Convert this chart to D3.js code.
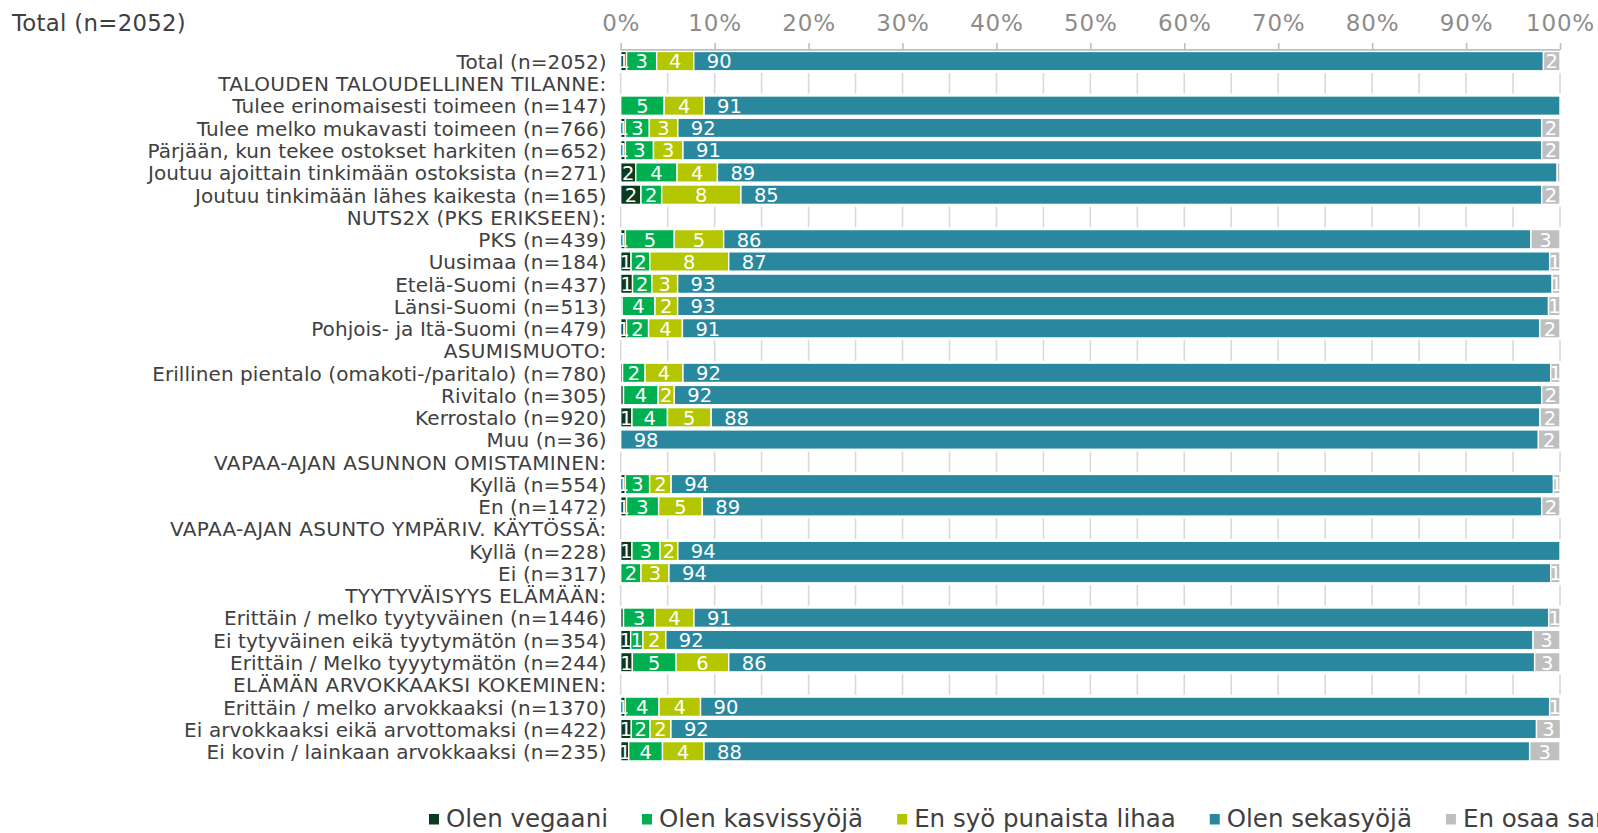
<!DOCTYPE html>
<html>
<head>
<meta charset="utf-8">
<script src="https://cdn.jsdelivr.net/npm/d3@7"></script>
<style>
  html, body { margin: 0; padding: 0; background: #fff; overflow: hidden; }
  text { font-family: "DejaVu Sans", Verdana, sans-serif; }
</style>
</head>
<body>
<svg id="chart" width="1598" height="833"></svg>
<script>
const title = "Total (n=2052)";
const categories = [
  "Total (n=2052)",
  "TALOUDEN TALOUDELLINEN TILANNE:",
  "Tulee erinomaisesti toimeen (n=147)",
  "Tulee melko mukavasti toimeen (n=766)",
  "Pärjään, kun tekee ostokset harkiten (n=652)",
  "Joutuu ajoittain tinkimään ostoksista (n=271)",
  "Joutuu tinkimään lähes kaikesta (n=165)",
  "NUTS2X (PKS ERIKSEEN):",
  "PKS (n=439)",
  "Uusimaa (n=184)",
  "Etelä-Suomi (n=437)",
  "Länsi-Suomi (n=513)",
  "Pohjois- ja Itä-Suomi (n=479)",
  "ASUMISMUOTO:",
  "Erillinen pientalo (omakoti-/paritalo) (n=780)",
  "Rivitalo (n=305)",
  "Kerrostalo (n=920)",
  "Muu (n=36)",
  "VAPAA-AJAN ASUNNON OMISTAMINEN:",
  "Kyllä (n=554)",
  "En (n=1472)",
  "VAPAA-AJAN ASUNTO YMPÄRIV. KÄYTÖSSÄ:",
  "Kyllä (n=228)",
  "Ei (n=317)",
  "TYYTYVÄISYYS ELÄMÄÄN:",
  "Erittäin / melko tyytyväinen (n=1446)",
  "Ei tytyväinen eikä tyytymätön (n=354)",
  "Erittäin / Melko tyyytymätön (n=244)",
  "ELÄMÄN ARVOKKAAKSI KOKEMINEN:",
  "Erittäin / melko arvokkaaksi (n=1370)",
  "Ei arvokkaaksi eikä arvottomaksi (n=422)",
  "Ei kovin / lainkaan arvokkaaksi (n=235)"
];
// null = group header row (no bar)
const vegaani = [0.62,null,0,0.5,0.5,1.6,2.16,null,0.5,1.1,1.26,0.15,0.62,null,0.2,0.3,1.2,0,null,0.5,0.62,null,1.2,0,null,0.3,1.06,1.24,null,0.5,1.13,0.85];
const kasvissyoja = [3.21,null,4.63,2.55,2.99,4.4,2.2,null,5.21,2.0,2.06,3.5,2.35,null,2.4,3.7,3.78,0,null,2.58,3.42,null,2.98,2.16,null,3.35,1.3,4.65,null,3.58,2.0,3.6];
const eiPunaista = [3.95,null,4.25,3.03,3.14,4.3,8.44,null,5.25,8.4,2.74,2.41,3.6,null,4.03,1.71,4.65,0,null,2.29,4.65,null,1.9,2.98,null,4.15,2.44,5.61,null,4.42,2.22,4.42];
const sekasyoja = [90.46,null,91.12,91.97,91.42,89.4,85.25,null,85.95,87.4,93.11,92.72,91.28,null,92.38,92.34,88.24,97.7,null,93.94,89.36,null,93.92,93.87,null,91.0,92.33,85.8,null,90.4,92.15,87.9];
const enOsaa = [1.76,null,0,1.95,1.95,0.3,1.95,null,3.09,1.1,0.83,1.22,2.15,null,0.99,1.95,2.13,2.3,null,0.69,1.95,null,0,0.99,null,1.2,2.87,2.7,null,1.1,2.55,3.23];

const seriesNames = ["Olen vegaani", "Olen kasvissyöjä", "En syö punaista lihaa", "Olen sekasyöjä", "En osaa sanoa"];
const seriesColors = ["#0b3a1e", "#00b050", "#b3c600", "#2a889e", "#bfbfbf"];
const tickValues = [0,10,20,30,40,50,60,70,80,90,100];
const gridValues = [0,5,10,15,20,25,30,35,40,45,50,55,60,65,70,75,80,85,90,95,100];

const seriesArrays = [vegaani, kasvissyoja, eiPunaista, sekasyoja, enOsaa];
const rows = categories.map((c, i) => {
  const o = { cat: c, header: vegaani[i] === null, vals: {} };
  seriesNames.forEach((s, j) => {
    const v = seriesArrays[j][i] === null ? 0 : seriesArrays[j][i];
    o[s] = v; o.vals[s] = v;
  });
  return o;
});

const svg = d3.select("#chart");
const x = d3.scaleLinear().domain([0, 100]).range([620.7, 1560]);
const y = d3.scaleBand().domain(categories).range([50, 762.4]).paddingInner(0.13).paddingOuter(0.065);
const step = y.step();

// title
svg.append("text").attr("x", 12).attr("y", 30.5)
  .attr("font-size", 22.8).attr("letter-spacing", 0.3).attr("fill", "#404040").text(title);

// gridlines in header rows
const headerRows = rows.filter(r => r.header);
headerRows.forEach(r => {
  const cy = y(r.cat) + y.bandwidth() / 2;
  svg.append("g").selectAll("line").data(gridValues).join("line")
    .attr("x1", d => x(d)).attr("x2", d => x(d))
    .attr("y1", cy - step / 2 + 0.8).attr("y2", cy + step / 2 - 0.8)
    .attr("stroke", "#d9d9d9").attr("stroke-width", 1.6);
});

// top axis
const axis = d3.axisTop(x).tickValues(tickValues).tickFormat(d => d + "%").tickSize(7).tickPadding(12);
const ag = svg.append("g").attr("transform", "translate(0,50)").call(axis);
ag.select(".domain").attr("stroke", "#bfbfbf").attr("stroke-width", 2)
  .attr("d", `M${x(0)},0H${x(100)}`);
ag.selectAll(".tick line").attr("stroke", "#bfbfbf").attr("stroke-width", 1.6);
ag.selectAll(".tick text").attr("font-size", 23).attr("fill", "#8c8c8c")
  .attr("font-family", "DejaVu Sans").attr("letter-spacing", 0.8);

// category labels
svg.append("g").selectAll("text").data(rows).join("text")
  .attr("x", 606.7)
  .attr("y", d => y(d.cat) + y.bandwidth() / 2 + 7.8)
  .attr("text-anchor", "end")
  .attr("font-size", 20).attr("fill", "#404040")
  .attr("letter-spacing", d => d.header ? 0.35 : 0.08)
  .text(d => d.cat);

// bars
const stack = d3.stack().keys(seriesNames);
const stacked = stack(rows.filter(r => !r.header));
const color = d3.scaleOrdinal().domain(seriesNames).range(seriesColors);

const layers = svg.append("g").selectAll("g").data(stacked).join("g")
  .attr("fill", d => color(d.key));
layers.selectAll("rect").data(d => d.filter(p => p[1] - p[0] > 0)).join("rect")
  .attr("x", d => x(d[0]))
  .attr("width", d => x(d[1]) - x(d[0]))
  .attr("y", d => y(d.data.cat))
  .attr("height", y.bandwidth())
  .attr("stroke", "#fff").attr("stroke-width", 1.4);

// value labels (rounded from the original series values)
const lab = svg.append("g");
stacked.forEach(layer => {
  const isMain = layer.key === "Olen sekasyöjä";
  lab.append("g").selectAll("text")
    .data(layer.filter(p => Math.round(p.data.vals[layer.key]) >= 1))
    .join("text")
    .attr("x", d => isMain ? x(d[0]) + 13 : (x(d[0]) + x(d[1])) / 2)
    .attr("y", d => y(d.data.cat) + y.bandwidth() / 2 + 7.3)
    .attr("text-anchor", isMain ? "start" : "middle")
    .attr("font-size", 19.5).attr("fill", "#fff")
    .text(d => Math.round(d.data.vals[layer.key]));
});

// legend
const lg = svg.append("g");
let lx = 429;
seriesNames.forEach((s, i) => {
  lg.append("rect").attr("x", lx).attr("y", 814).attr("width", 10).attr("height", 10.5)
    .attr("fill", seriesColors[i]);
  const t = lg.append("text").attr("x", lx + 17).attr("y", 827)
    .attr("font-size", 24.5).attr("fill", "#404040").text(s);
  lx = lx + 17 + t.node().getComputedTextLength() + 34;
});
</script>
</body>
</html>
